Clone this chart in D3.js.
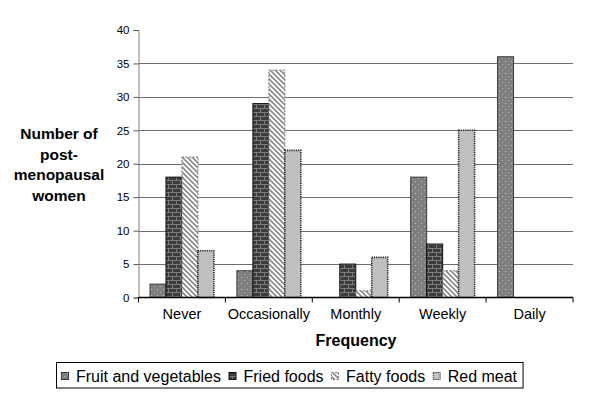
<!DOCTYPE html>
<html><head><meta charset="utf-8">
<script src="https://cdn.jsdelivr.net/npm/d3@7"></script>
<style>body{margin:0;background:#fff}svg{display:block;font-family:Arial,"Liberation Sans",sans-serif}</style>
</head><body><svg id="c" width="600" height="412"></svg>
<script>
const categories = ["Never","Occasionally","Monthly","Weekly","Daily"];
const seriesNames = ["Fruit and vegetables","Fried foods","Fatty foods","Red meat"];
const fruitVeg = [2,4,0,18,36];
const friedFoods = [18,29,5,8,0];
const fattyFoods = [21,34,1,4,0];
const redMeat = [7,22,6,25,0];
const yTicks = [0,5,10,15,20,25,30,35,40];
const yTitleLines = ["Number of","post-","menopausal","women"];
const xTitle = "Frequency";

const series = [fruitVeg, friedFoods, fattyFoods, redMeat];
const svg = d3.select("#c");
const defs = svg.append("defs");

// patterns
const pf = defs.append("pattern").attr("id","p0").attr("patternUnits","userSpaceOnUse").attr("width",6).attr("height",6);
pf.append("rect").attr("width",6).attr("height",6).attr("fill","#7f7f7f");
pf.append("rect").attr("x",1).attr("y",1).attr("width",1).attr("height",1).attr("fill","#c4c4c4");
pf.append("rect").attr("x",4).attr("y",4).attr("width",1).attr("height",1).attr("fill","#b0b0b0");

const pb = defs.append("pattern").attr("id","p1").attr("patternUnits","userSpaceOnUse").attr("width",8).attr("height",8);
pb.append("rect").attr("width",8).attr("height",8).attr("fill","#3c3c3c");
pb.append("path").attr("d","M0,0.5H8M0,4.5H8M0.5,0V4.5M4.5,4.5V8").attr("stroke","#7a7a7a").attr("stroke-width",1).attr("fill","none");

const pd = defs.append("pattern").attr("id","p2").attr("patternUnits","userSpaceOnUse").attr("width",5).attr("height",5);
pd.append("rect").attr("width",5).attr("height",5).attr("fill","#fff");
pd.append("path").attr("d","M-1,-1L6,6M-1,4L1,6M4,-1L6,1").attr("stroke","#8a8a8a").attr("stroke-width",1.6);

const pr = defs.append("pattern").attr("id","p3").attr("patternUnits","userSpaceOnUse").attr("width",4).attr("height",4);
pr.append("rect").attr("width",4).attr("height",4).attr("fill","#c0c0c0");

const styles = [
  {fill:"url(#p0)", stroke:"#3a3a3a", dash:null, sw:1},
  {fill:"url(#p1)", stroke:"#111", dash:null, sw:1},
  {fill:"url(#p2)", stroke:"#777", dash:"2,1.5", sw:1},
  {fill:"url(#p3)", stroke:"#222", dash:"1.2,1", sw:1.6}
];

const x0 = d3.scaleBand().domain(categories).range([138.5,573]).padding(0);
const x1 = d3.scaleBand().domain(d3.range(4)).range([0,x0.bandwidth()]).paddingInner(0).paddingOuter(0.72);
const y = d3.scaleLinear().domain([0,40]).range([297.5,30]);

// gridlines
svg.append("g").selectAll("line").data(yTicks.filter(t=>t>0&&t<40)).join("line")
  .attr("x1",138.5).attr("x2",573).attr("y1",d=>Math.round(y(d))+0.5).attr("y2",d=>Math.round(y(d))+0.5)
  .attr("stroke","#6e6e6e").attr("stroke-width",1);

// y axis
const ya = svg.append("g").attr("transform","translate(138.5,0)")
  .call(d3.axisLeft(y).tickValues(yTicks).tickSize(5).tickPadding(4).tickFormat(d3.format("d")));
ya.select(".domain").attr("stroke","#808080");
ya.selectAll(".tick line").attr("stroke","#555");
ya.selectAll(".tick text").attr("font-size","11.5px").attr("fill","#000").attr("font-family","Arial,'Liberation Sans',sans-serif");

// bars
categories.forEach((c,ci)=>{
  series.forEach((s,si)=>{
    const v = s[ci];
    if(v<=0) return;
    const st = styles[si];
    svg.append("rect")
      .attr("x", x0(c)+x1(si)).attr("y", y(v))
      .attr("width", x1.bandwidth()).attr("height", y(0)-y(v))
      .attr("fill", st.fill).attr("stroke", st.stroke).attr("stroke-width", st.sw)
      .attr("stroke-dasharray", st.dash);
  });
});

// x axis
const xa = svg.append("g").attr("transform","translate(0,297.5)");
xa.append("line").attr("x1",138.5).attr("x2",573).attr("stroke","#000").attr("stroke-width",1.5);
const bounds = categories.map(c=>x0(c)).concat([x0.range()[1]]);
xa.selectAll("line.t").data(bounds).join("line").attr("class","t")
  .attr("x1",d=>d).attr("x2",d=>d).attr("y1",0).attr("y2",5).attr("stroke","#000");
xa.selectAll("text").data(categories).join("text")
  .attr("x",d=>x0(d)+x0.bandwidth()/2).attr("y",21).attr("text-anchor","middle")
  .attr("font-size","14.5px").text(d=>d);

// axis titles
svg.append("text").attr("x",356).attr("y",346).attr("text-anchor","middle")
  .attr("font-size","16px").attr("font-weight","bold").text(xTitle);
svg.append("g").selectAll("text").data(yTitleLines).join("text")
  .attr("x",59).attr("y",(d,i)=>139+i*20.5).attr("text-anchor","middle")
  .attr("font-size","15.5px").attr("font-weight","bold").text(d=>d);

// legend
const lg = svg.append("g");
const box = lg.append("rect").attr("x",56.5).attr("y",362.5).attr("height",25.5)
  .attr("fill","#fff").attr("stroke","#000").attr("stroke-width",1);
let lx = 61.5;
seriesNames.forEach((n,i)=>{
  const st = styles[i];
  lg.append("rect").attr("x",lx).attr("y",372.5).attr("width",7).attr("height",7)
    .attr("fill",st.fill).attr("stroke",st.stroke).attr("stroke-width",1)
    .attr("stroke-dasharray", st.dash);
  const t = lg.append("text").attr("x",lx+14.5).attr("y",382).attr("font-size","16px").text(n);
  lx = lx + 14.5 + t.node().getComputedTextLength() + 8;
});
box.attr("width", lx - 56.5 - 2);
</script></body></html>
